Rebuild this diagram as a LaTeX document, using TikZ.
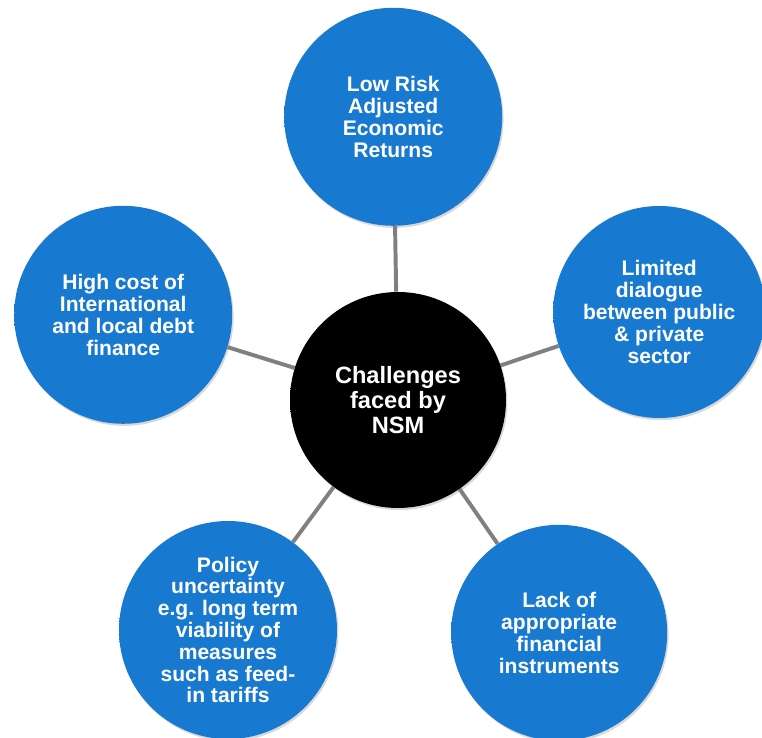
\documentclass[tikz,border=0pt]{standalone}
\usepackage{fontspec}
\setmainfont{Liberation Sans}
\usetikzlibrary{shadows, backgrounds}

\definecolor{btnblue}{RGB}{24,121,208}
\definecolor{btnrim}{RGB}{12,78,150}
\definecolor{linkgray}{RGB}{128,128,128}

% flat face with a darker rim, so the discs look like buttons
\pgfdeclareradialshading{bluebutton}{\pgfpoint{0bp}{0bp}}{color(0bp)=(btnblue); color(43bp)=(btnblue); color(50bp)=(btnrim)}
\pgfdeclareradialshading{blackbutton}{\pgfpoint{0bp}{0bp}}{color(0bp)=(black); color(45bp)=(black); color(50bp)=(black!78)}

\tikzset{
  challenge/.style={circle, minimum size=5.45cm, inner sep=0pt, shading=bluebutton,
    text=white, align=center, font=\fontsize{15}{15.5}\selectfont\bfseries,
    drop shadow={shadow xshift=1pt, shadow yshift=-1.5pt, opacity=0.3}},
  hub/.style={challenge, shading=blackbutton, minimum size=5.4cm,
    font=\fontsize{16.8}{18}\selectfont\bfseries},
  link/.style={draw=linkgray, line width=2.8pt}
}

\begin{document}
\begin{tikzpicture}

    \useasboundingbox (0, 0) rectangle (19.05, 18.45);

    \node[hub] (nsm) at (9.95, 8.45) {Challenges\\faced by\\NSM};

    \node[challenge] (returns) at (9.83, 15.53) {Low Risk\\Adjusted\\Economic\\Returns};
    \node[challenge, minimum size=5.3cm] (dialogue) at (16.48, 10.65) {Limited\\dialogue\\between public\\\& private\\sector};
    \node[challenge] (debt) at (3.08, 10.58) {High cost of\\International\\and local debt\\finance};
    \node[challenge] (policy) at (5.7, 2.7) {Policy\\uncertainty\\e.g. long term\\viability of\\measures\\such as feed-\\in tariffs};
    \node[challenge, minimum size=5.4cm] (instruments) at (13.98, 2.63) {Lack of\\appropriate\\financial\\instruments};

    % spokes sit behind the discs
    \begin{scope}[on background layer]
        \draw[link] (nsm) -- (returns);
        \draw[link] (nsm) -- (dialogue);
        \draw[link] (nsm) -- (debt);
        \draw[link] (nsm) -- (policy);
        \draw[link] (nsm) -- (instruments);
    \end{scope}

\end{tikzpicture}
\end{document}
